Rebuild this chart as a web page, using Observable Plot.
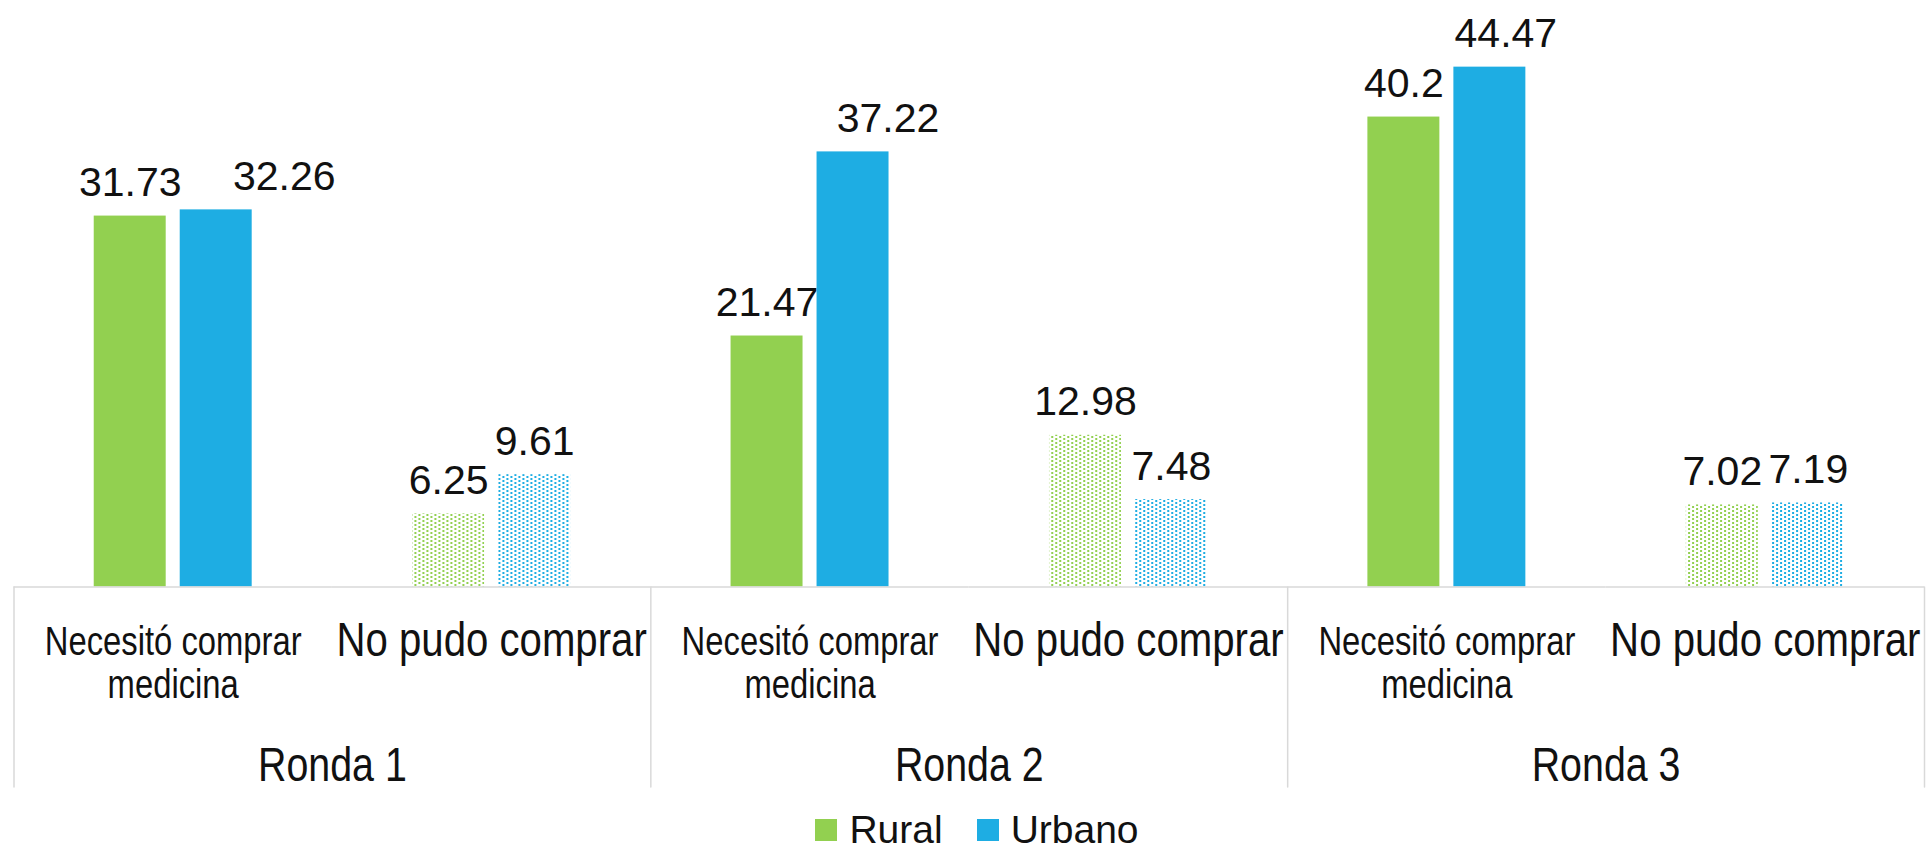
<!DOCTYPE html>
<html>
<head>
<meta charset="utf-8">
<script src="https://cdn.jsdelivr.net/npm/d3@7"></script>
<script src="https://cdn.jsdelivr.net/npm/@observablehq/plot@0.6"></script>
<style>
  body { margin: 0; background: #fff; overflow: hidden; }
  #legend {
    width: 1928px; height: 50px; box-sizing: border-box; padding-left: 26px; padding-top: 10px;
    display: flex; justify-content: center; align-items: center;
    font-family: "Liberation Sans", Arial, sans-serif;
    font-size: 39px; line-height: 40px; color: #111;
  }
  .sw { display: inline-flex; align-items: center; margin-right: 34px; }
  .sw:last-child { margin-right: 0; }
  .sw i { display: inline-block; width: 22px; height: 22px; margin-right: 12px; }
</style>
</head>
<body>
<div id="chart"></div>
<div id="legend"></div>
<script>
// ---- data ----
const rondas = ["Ronda 1", "Ronda 2", "Ronda 3"];
const indicadores = ["Necesitó comprar medicina", "No pudo comprar"];
const indicadorEtiquetas = ["Necesitó comprar\nmedicina", "No pudo comprar"];
const series = ["Rural", "Urbano"];
// order: R1-Necesitó, R1-No pudo, R2-Necesitó, R2-No pudo, R3-Necesitó, R3-No pudo
const valoresRural = [31.73, 6.25, 21.47, 12.98, 40.2, 7.02];
const valoresUrbano = [32.26, 9.61, 37.22, 7.48, 44.47, 7.19];
const colores = ["#92d050", "#1eade3"];

// ---- tables built from the arrays ----
const grupos = rondas.flatMap(r => indicadores.map(ind => ({ronda: r, ind, key: r + "|" + ind})));
const datos = grupos.flatMap((g, i) => [
  {...g, serie: series[0], valor: valoresRural[i]},
  {...g, serie: series[1], valor: valoresUrbano[i]}
]);

const regular = "'Liberation Sans', Arial, sans-serif";
const ink = "#111";
const grid = "#d9d9d9";
const nudge = new Map([["Ronda 1", 68], ["Ronda 2", 35], ["Ronda 3", 16]]);

const sepShape = {draw(ctx, l) { ctx.moveTo(0, 0); ctx.lineTo(0, -l); }};

const solid = datos.filter(d => d.ind === indicadores[0]);
const marks = [
  Plot.barY(solid, {fx: "key", x: "serie", y: "valor", fill: "serie"}),
  Plot.barY(datos.filter(d => d.ind === indicadores[1] && d.serie === series[0]),
    {fx: "key", x: "serie", y: "valor", fill: "url(#dotRural)"}),
  Plot.barY(datos.filter(d => d.ind === indicadores[1] && d.serie === series[1]),
    {fx: "key", x: "serie", y: "valor", fill: "url(#dotUrbano)"}),
  Plot.ruleY([0], {stroke: grid, strokeWidth: 1.5}),
  Plot.vector(rondas.map(r => r + "|" + indicadores[0]),
    {fx: d => d, frameAnchor: "bottom-left", length: 200, rotate: 180, anchor: "start",
     shape: sepShape, stroke: grid, strokeWidth: 1.5, fill: "none"}),
  Plot.vector([grupos[grupos.length - 1].key],
    {fx: d => d, frameAnchor: "bottom-right", length: 200, rotate: 180, anchor: "start",
     shape: sepShape, stroke: grid, strokeWidth: 1.5, fill: "none"}),
  // value labels
  Plot.text(datos.filter(d => !(d.ind === indicadores[0] && d.serie === series[1])),
    {fx: "key", x: "serie", y: "valor", text: d => String(d.valor), dy: -20,
     lineAnchor: "bottom", fontSize: 41, fill: ink}),
  ...rondas.map(r => Plot.text(datos.filter(d => d.ind === indicadores[0] && d.serie === series[1] && d.ronda === r),
    {fx: "key", x: "serie", y: "valor", text: d => String(d.valor), dy: -20, dx: nudge.get(r),
     lineAnchor: "bottom", fontSize: 41, fill: ink})),
  // category labels (condensed)
  Plot.text(grupos.filter(g => g.ind === indicadores[0]),
    {fx: "key", frameAnchor: "bottom", text: () => indicadorEtiquetas[0], lineAnchor: "top",
     lineHeight: 1.075, dy: 37, fontSize: 40, fill: ink, className: "narrow"}),
  Plot.text(grupos.filter(g => g.ind === indicadores[1]),
    {fx: "key", frameAnchor: "bottom", text: () => indicadorEtiquetas[1], lineAnchor: "bottom",
     dy: 68.5, fontSize: 49, fill: ink, className: "narrow"}),
  Plot.text(rondas,
    {fx: r => r + "|" + indicadores[0], frameAnchor: "bottom-right", text: d => d,
     textAnchor: "middle", lineAnchor: "bottom", dy: 193.5, fontSize: 48, fill: ink, className: "narrow"})
];

const plot = Plot.plot({
  width: 1928,
  height: 800,
  marginTop: 2,
  marginBottom: 213.5,
  marginLeft: 13.5,
  marginRight: 4,
  fx: {domain: grupos.map(g => g.key), padding: 0, axis: null, round: false},
  x: {domain: series, paddingInner: 0.163, paddingOuter: 0.933, axis: null, round: false},
  y: {domain: [0, 50], axis: null},
  color: {domain: series, range: colores},
  style: {background: "#fff", fontFamily: regular, overflow: "visible", display: "block"},
  marks
});

d3.select(plot).insert("defs", ":first-child").html(
  series.map((s, i) =>
    `<pattern id="dot${s}" width="8" height="4" patternUnits="userSpaceOnUse">` +
    `<rect x="0" y="0" width="2" height="2" fill="${colores[i]}"/>` +
    `<rect x="4" y="2" width="2" height="2" fill="${colores[i]}"/></pattern>`
  ).join("")
);

// condense the category labels horizontally (narrow face look)
d3.select(plot).selectAll(".narrow text").each(function () {
  const t = this.getAttribute("transform") || "";
  this.setAttribute("transform", (t + " scale(0.82,1)").trim());
});

document.getElementById("chart").appendChild(plot);

// legend
const legend = d3.select("#legend");
series.forEach((s, i) => {
  const item = legend.append("span").attr("class", "sw");
  item.append("i").style("background", colores[i]);
  item.append("span").text(s);
});
</script>
</body>
</html>
